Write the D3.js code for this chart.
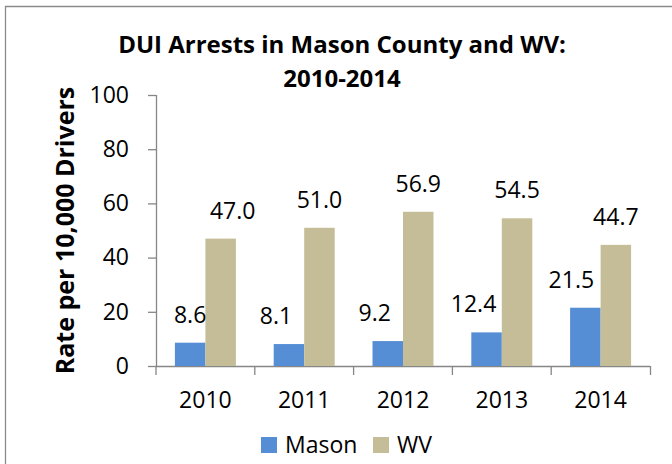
<!DOCTYPE html>
<html>
<head>
<meta charset="utf-8">
<script src="https://cdn.jsdelivr.net/npm/d3@7"></script>
<style>
  body { margin: 0; background: #fff; }
  svg { display: block; font-family: "Open Sans", sans-serif; }
  .tick text { font-size: 23px; fill: #000; }
</style>
</head>
<body>
<div id="chart"></div>
<script>
// data
var years = ["2010", "2011", "2012", "2013", "2014"];
var mason = [8.6, 8.1, 9.2, 12.4, 21.5];
var wv = [47.0, 51.0, 56.9, 54.5, 44.7];
var seriesNames = ["Mason", "WV"];
var yTicks = [0, 20, 40, 60, 80, 100];

// colours per series
var colors = ["#558ED5", "#C4BD97"];
// labels that were dragged off-centre in the original
var labelNudge = {"WV2010": 12, "Mason2011": -13, "Mason2012": -13, "Mason2013": -13, "Mason2014": -14};

const W = 672, H = 464;
const svg = d3.select("#chart").append("svg").attr("width", W).attr("height", H);

// chart area border (only top and left are in view)
svg.append("path")
    .attr("d", "M5.5,464V6.5H672")
    .attr("fill", "none").attr("stroke", "#8a8a8a").attr("stroke-width", 1.3);

// scales
var xScale = d3.scaleBand().domain(years).range([156, 650]);
var xInner = d3.scaleBand().domain(seriesNames).range([0, xScale.bandwidth()]).paddingOuter(0.62);
var yScale = d3.scaleLinear().domain([0, 100]).range([366, 95]);

// rows for bars
var rows = [];
years.forEach(function (y, i) {
    rows.push({year: y, series: "Mason", value: mason[i], c: colors[0]});
    rows.push({year: y, series: "WV", value: wv[i], c: colors[1]});
});

// axes
var gy = svg.append("g").attr("transform", "translate(156,0)")
    .call(d3.axisLeft(yScale).tickValues(yTicks).tickSize(8).tickPadding(19).tickFormat(d3.format("d")));
var gx = svg.append("g").attr("transform", "translate(0,366)")
    .call(d3.axisBottom(xScale).tickSize(9).tickPadding(17));
// ticks at category boundaries, not centres
gx.selectAll(".tick line").attr("x1", -xScale.bandwidth() / 2).attr("x2", -xScale.bandwidth() / 2);
gx.append("line")
    .attr("x1", xScale.range()[1] + 0.5).attr("x2", xScale.range()[1] + 0.5)
    .attr("y1", 0).attr("y2", 9).attr("stroke", "#868686").attr("stroke-width", 1.3);
[gx, gy].forEach(function (g) {
    g.select(".domain").attr("stroke", "#868686").attr("stroke-width", 1.3);
    g.selectAll(".tick line").attr("stroke", "#868686").attr("stroke-width", 1.3);
    g.selectAll(".tick text").attr("font-family", "Open Sans").attr("font-size", 23).attr("fill", "#000");
});
gy.select(".domain").attr("d", "M0.5,95V366.5");
gx.select(".domain").attr("d", "M156,0.5H650");

// bars
svg.append("g").selectAll("rect").data(rows).enter().append("rect")
    .attr("x", d => xScale(d.year) + xInner(d.series))
    .attr("y", d => yScale(d.value))
    .attr("width", xInner.bandwidth())
    .attr("height", d => yScale(0) - yScale(d.value))
    .attr("fill", d => d.c);

// value labels
svg.append("g").selectAll("text").data(rows).enter().append("text")
    .attr("x", d => xScale(d.year) + xInner(d.series) + xInner.bandwidth() / 2 + (labelNudge[d.series + d.year] || 0))
    .attr("y", d => yScale(d.value) - 20)
    .attr("text-anchor", "middle")
    .attr("font-size", 23)
    .text(d => d3.format(".1f")(d.value));

// title
var title = svg.append("text").attr("text-anchor", "middle").attr("font-weight", "bold").attr("font-size", 24);
title.append("tspan").attr("x", 342).attr("y", 53).text("DUI Arrests in Mason County and WV:");
title.append("tspan").attr("x", 342).attr("y", 87).text("2010-2014");

// y axis title
svg.append("text")
    .attr("transform", "translate(74," + (yScale(50)) + ") rotate(-90)")
    .attr("text-anchor", "middle").attr("font-weight", "bold").attr("font-size", 25)
    .text("Rate per 10,000 Drivers");

// legend
var legend = svg.append("g").selectAll("g").data(seriesNames).enter().append("g")
    .attr("transform", (d, i) => "translate(" + [261, 373][i] + ",437)");
legend.append("rect").attr("width", 16).attr("height", 16).attr("fill", (d, i) => colors[i]);
legend.append("text").attr("x", 24).attr("y", 16).attr("font-size", 23).text(d => d);
</script>
</body>
</html>
